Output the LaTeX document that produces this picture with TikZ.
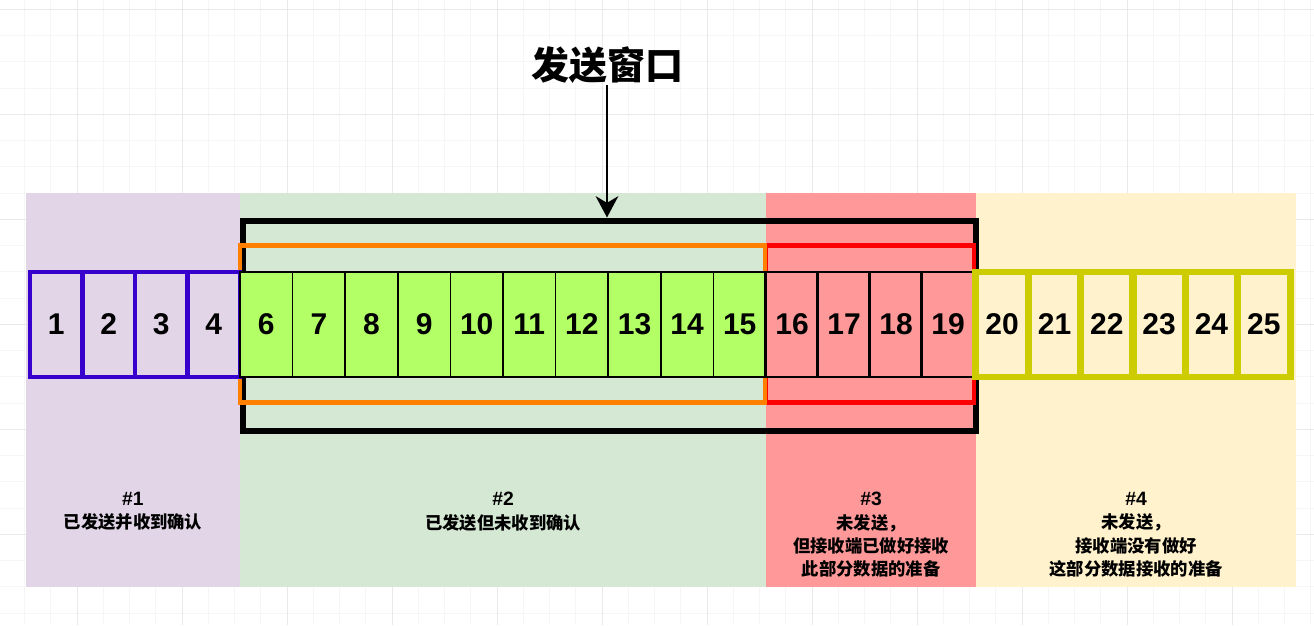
\documentclass[tikz,border=0pt]{standalone}
\usepackage{fontspec}
\setmainfont{Liberation Sans}
\newfontfamily\cjk{Noto Sans CJK SC}
\usetikzlibrary{arrows.meta}

\definecolor{ackedbg}{HTML}{E1D5E7}
\definecolor{sentbg}{HTML}{D5E8D4}
\definecolor{readybg}{HTML}{FF9999}
\definecolor{waitbg}{HTML}{FFF2CC}
\definecolor{ackedline}{HTML}{3700CC}
\definecolor{sentfill}{HTML}{B3FF66}
\definecolor{sentframe}{HTML}{FF8000}
\definecolor{readyframe}{HTML}{FF0000}
\definecolor{waitline}{HTML}{CCCC00}

\begin{document}
\begin{tikzpicture}[x=0.75pt,y=-0.75pt]

\tikzset{cellbox/.style = {rectangle, minimum width=39.4pt, minimum height=78.75pt, inner sep=0pt, font=\bfseries\fontsize{22.5}{27}\selectfont}}
\tikzset{ackedcell/.style = {draw=ackedline, line width=3.4pt}}
\tikzset{sentcell/.style = {draw=black, fill=sentfill, line width=1.1pt}}
\tikzset{readycell/.style = {draw=black, fill=readybg, line width=2.2pt}}
\tikzset{waitcell/.style = {draw=waitline, line width=5.2pt}}
\tikzset{frame/.style = {line width=3.4pt}}
\tikzset{region/.style = {align=center, anchor=north, inner sep=0pt, font=\bfseries\fontsize{13}{17.5}\selectfont}}
\tikzset{pointer/.style = {-{Stealth[length=16pt,width=17pt,inset=5pt]}, line width=1.5pt}}

\newcommand{\tag}[1]{{\fontsize{14.5}{17.5}\selectfont\##1}}

\useasboundingbox (0,0) rectangle (1314,625);

% grid
\foreach \k in {1,...,50}
  \draw[gray!7, line width=0.75pt] ({-1.75+26.25*\k},0) -- ({-1.75+26.25*\k},625);
\foreach \k in {0,...,23}
  \draw[gray!7, line width=0.75pt] (0,{9.3+26.25*\k}) -- (1314,{9.3+26.25*\k});
\foreach \k in {0,...,11}
  \draw[gray!17, line width=0.75pt] ({77+105*\k},0) -- ({77+105*\k},625);
\foreach \k in {0,...,5}
  \draw[gray!17, line width=0.75pt] (0,{9.3+105*\k}) -- (1314,{9.3+105*\k});

% regions
\fill[ackedbg] (26,193) rectangle (240,587);
\fill[sentbg] (240,193) rectangle (766,587);
\fill[readybg] (766,193) rectangle (976,587);
\fill[waitbg] (976,193) rectangle (1296,587);

% window
\node[draw=black, line width=4.5pt, minimum width=549.75pt, minimum height=157.5pt] (win) at (609.5,325.5) {};
\draw[frame, readyframe] (766,245.5) rectangle (974,402.5);
\draw[frame, sentframe] (240,245.5) rectangle (765,402.5);

% cells
\foreach \n [count=\i from 0] in {1,...,4}
  \node[cellbox, ackedcell] (n\n) at ({30+52.5*(\i+0.5)},324.5) {\n};
\foreach \n [count=\i from 0] in {6,...,15}
  \node[cellbox, sentcell] (n\n) at ({240+52.6*(\i+0.5)},324.5) {\n};
\foreach \n [count=\i from 0] in {16,...,19}
  \node[cellbox, readycell] (n\n) at ({766+52*(\i+0.5)},324.5) {\n};
\foreach \n [count=\i from 0] in {20,...,25}
  \node[cellbox, waitcell] (n\n) at ({976+52.33*(\i+0.5)},324.5) {\n};

% title
\node[font=\cjk\bfseries\fontsize{28.5}{32}\selectfont, inner sep=1pt] (title) at (607,65) {发送窗口};
\draw[pointer] (title) -- (title |- win.north);

% labels
\node[region] (r1) at (133,492) {\tag{1}\\{\cjk 已发送并收到确认}};
\node[region] (r2) at (503,492) {\tag{2}\\{\cjk 已发送但未收到确认}};
\node[region] (r3) at (871,492) {\tag{3}\\{\cjk 未发送，}\\{\cjk 但接收端已做好接收}\\{\cjk 此部分数据的准备}};
\node[region] (r4) at (1136,492) {\tag{4}\\{\cjk 未发送，}\\{\cjk 接收端没有做好}\\{\cjk 这部分数据接收的准备}};

\end{tikzpicture}
\end{document}
